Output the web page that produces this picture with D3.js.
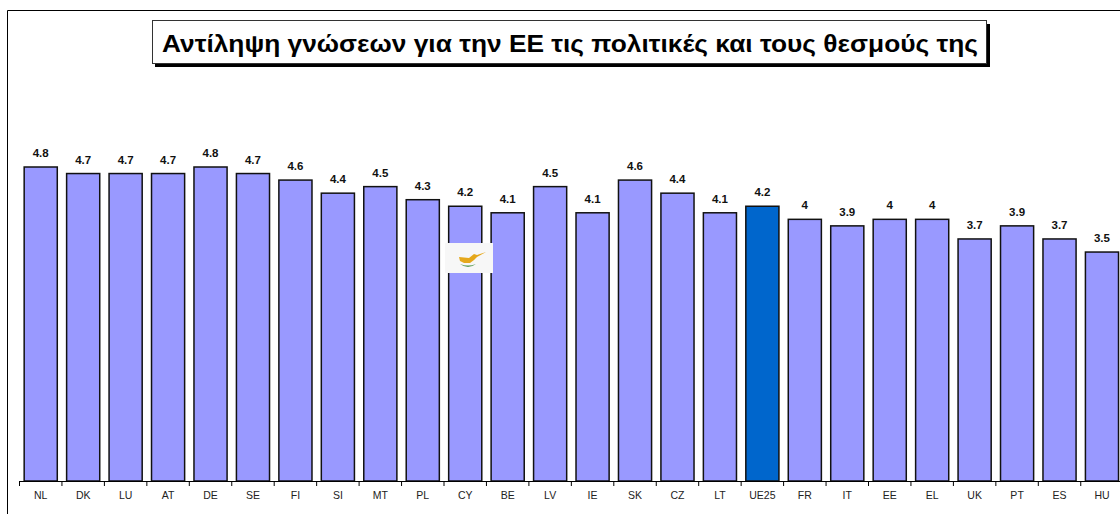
<!DOCTYPE html>
<html><head><meta charset="utf-8">
<script src="https://cdnjs.cloudflare.com/ajax/libs/d3/7.8.5/d3.min.js"></script>
<style>html,body{margin:0;padding:0;background:#fff;overflow:hidden}svg{display:block}text{font-family:"Liberation Sans",Arial,sans-serif}</style>
</head><body><svg id="c" width="1120" height="514"></svg>
<script>
const categories=["NL","DK","LU","AT","DE","SE","FI","SI","MT","PL","CY","BE","LV","IE","SK","CZ","LT","UE25","FR","IT","EE","EL","UK","PT","ES","HU"];
const values=[4.8,4.7,4.7,4.7,4.8,4.7,4.6,4.4,4.5,4.3,4.2,4.1,4.5,4.1,4.6,4.4,4.1,4.2,4,3.9,4,4,3.7,3.9,3.7,3.5];
const highlight=["UE25"];
const titleText="Αντίληψη γνώσεων για την ΕΕ τις πολιτικές και τους θεσμούς της";
const svg=d3.select("#c");
const x=d3.scaleBand().domain(categories).range([19.5,1123.2]).paddingInner(0.22).paddingOuter(0.11);
const y=d3.scaleLinear().domain([0,4.8]).range([481,167]);
// frame
svg.append("path").attr("d","M7.5,514V10.5H1120").attr("fill","none").attr("stroke","#000").attr("stroke-width",1);
// title
svg.append("rect").attr("x",155).attr("y",24).attr("width",835).attr("height",43).attr("fill","#000");
svg.append("rect").attr("x",152.5).attr("y",20.5).attr("width",834).attr("height",43).attr("fill","#fff").attr("stroke","#333").attr("stroke-width",1);
svg.append("text").attr("x",570).attr("y",52).attr("text-anchor","middle").attr("font-size",24).attr("font-weight","bold").attr("textLength",816).attr("lengthAdjust","spacingAndGlyphs").text(titleText);
// bars
svg.selectAll("rect.bar").data(categories).join("rect").attr("class","bar")
 .attr("x",d=>x(d)).attr("width",x.bandwidth())
 .attr("y",(d,i)=>y(values[i])).attr("height",(d,i)=>y(0)-y(values[i]))
 .attr("fill",d=>highlight.includes(d)?"#0066CC":"#9999FF").attr("stroke","#111").attr("stroke-width",1.5);
// value labels
svg.selectAll("text.val").data(categories).join("text").attr("class","val")
 .attr("x",d=>x(d)+x.bandwidth()/2).attr("y",(d,i)=>y(values[i])-10)
 .attr("text-anchor","middle").attr("font-size",11.5).attr("font-weight","bold").attr("fill","#111")
 .text((d,i)=>values[i]);
// axis
const axis=d3.axisBottom(x).tickSize(0).tickPadding(11);
const g=svg.append("g").attr("transform",`translate(0,${y(0)})`).call(axis);
g.select(".domain").remove();
g.selectAll("text").attr("font-size",10.5).attr("fill","#222").style("font-family",'"Liberation Sans",Arial,sans-serif');
const step=x.step();
const edges=categories.map((d,i)=>x(d)-(step-x.bandwidth())/2);
svg.append("line").attr("x1",19.5).attr("x2",1120).attr("y1",y(0)+.5).attr("y2",y(0)+.5).attr("stroke","#000");
svg.selectAll("line.tk").data(edges).join("line").attr("class","tk").attr("x1",d=>d).attr("x2",d=>d).attr("y1",y(0)).attr("y2",y(0)+5).attr("stroke","#000");
// flag
const f=svg.append("g").attr("transform","translate(445,243)");
f.append("rect").attr("width",48).attr("height",30).attr("fill","#f7f7f7");
f.append("path").attr("d","M14,14 L24,15 L29,11 L32,12 L41,9 L32,14 L29,17 L25,20 L19,20 L15,18Z").attr("fill","#E5A81C");
f.append("path").attr("d","M15,21 Q23,27 31,21 Q23,24 15,21Z").attr("fill","#5E9E5A");
</script></body></html>
